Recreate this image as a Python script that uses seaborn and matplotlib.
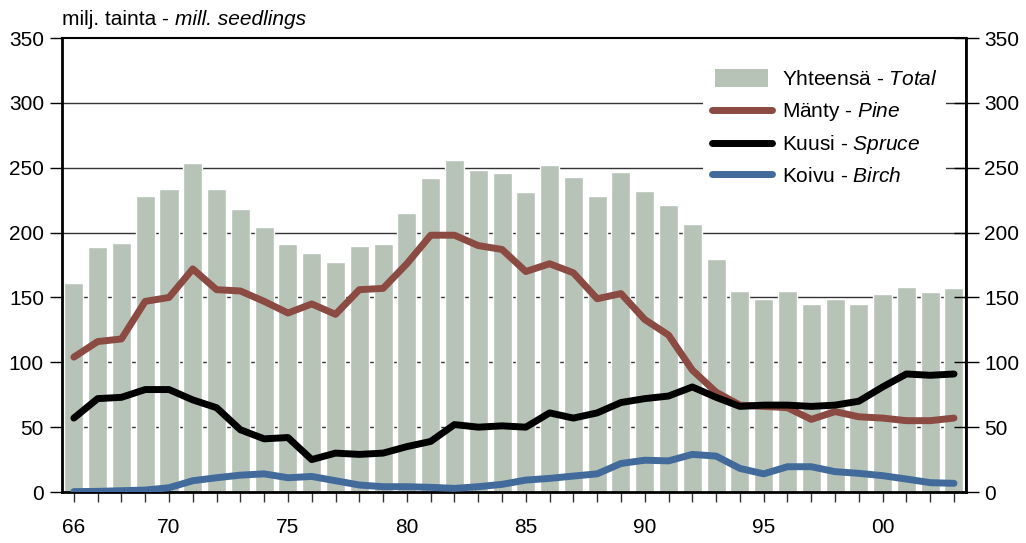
import matplotlib
matplotlib.use("Agg")
import matplotlib.pyplot as plt
import pandas as pd
import seaborn as sns
from matplotlib.patches import Patch, Rectangle
from matplotlib.lines import Line2D
from matplotlib.legend_handler import HandlerPatch
from matplotlib.ticker import MultipleLocator, FixedLocator

sns.set_theme(style="white")
plt.rcParams["font.family"] = ["Liberation Sans", "DejaVu Sans"]
plt.rcParams["mathtext.fontset"] = "custom"
plt.rcParams["mathtext.rm"] = "Liberation Sans"
plt.rcParams["mathtext.it"] = "Liberation Sans:italic"
plt.rcParams["text.color"] = "black"
plt.rcParams["xtick.color"] = "black"
plt.rcParams["ytick.color"] = "black"

years = list(range(1966, 2004))
total = [161, 189, 192, 228, 234, 254, 234, 218, 204, 191,
         184, 177, 190, 191, 215, 242, 256, 248, 246, 231,
         252, 243, 228, 247, 232, 221, 207, 180, 155, 149,
         155, 145, 149, 145, 153, 158, 154, 157]
pine = [104, 116, 118, 147, 150, 172, 156, 155, 147, 138,
        145, 137, 156, 157, 176, 198, 198, 190, 187, 170,
        176, 169, 149, 153, 133, 121, 94, 77, 67, 66,
        65, 56, 62, 58, 57, 55, 55, 57]
spruce = [57, 72, 73, 79, 79, 71, 65, 48, 41, 42,
          25, 30, 29, 30, 35, 39, 52, 50, 51, 50,
          61, 57, 61, 69, 72, 74, 81, 73, 66, 67,
          67, 66, 67, 70, 81, 91, 90, 91]
birch = [0.3, 0.5, 1, 1.5, 3.3, 8.7, 11, 13, 14, 11,
         12, 8.7, 5.4, 4.1, 4.1, 3.6, 2.8, 4.1, 5.9, 9.2,
         10.5, 12.3, 14, 22, 24.5, 24, 29, 27.7, 18.2, 14,
         19.5, 19.5, 15.7, 14.4, 12.6, 10, 7.2, 6.7]
tick_years = [1966, 1970, 1975, 1980, 1985, 1990, 1995, 2000]
tick_labels = ["66", "70", "75", "80", "85", "90", "95", "00"]

df = pd.DataFrame({"year": years, "total": total, "pine": pine,
                   "spruce": spruce, "birch": birch})

BAR = "#b8c3b8"
PINE = "#8b4a42"
SPRUCE = "#000000"
BIRCH = "#426b9c"
FS = 15

fig = plt.figure(figsize=(10.26, 5.43), dpi=100)
ax = fig.add_axes([0.0604, 0.0939, 0.881, 0.836])

for v in range(50, 350, 50):
    ax.axhline(v, color="#333333", lw=1, zorder=0)

sns.barplot(data=df, x="year", y="total", native_scale=True, color=BAR,
            width=0.8, saturation=1, ax=ax, zorder=2)
for col, c in [("pine", PINE), ("spruce", SPRUCE), ("birch", BIRCH)]:
    sns.lineplot(data=df, x="year", y=col, color=c, lw=5, ax=ax, zorder=3,
                 solid_capstyle="round", solid_joinstyle="round")

ax.set_xlim(1965.5, 2003.5)
ax.set_ylim(0, 350)
ax.set_xlabel("")
ax.set_ylabel("")
ax.yaxis.set_major_locator(MultipleLocator(50))
ax.xaxis.set_major_locator(FixedLocator(tick_years))
ax.xaxis.set_minor_locator(MultipleLocator(1))
ax.set_xticklabels(tick_labels)
ax.tick_params(axis="x", which="both", direction="out", length=7, width=1,
               color="#333333", bottom=True, labelsize=FS, pad=12)
ax.tick_params(axis="y", direction="out", length=9, width=1, left=True,
               labelsize=FS, pad=4)
for s in ax.spines.values():
    s.set_color("black")
    s.set_linewidth(1.2)
ax.spines["left"].set_linewidth(2)
ax.spines["bottom"].set_linewidth(2)
ax.spines["top"].set_linewidth(1.5)

ax2 = ax.twinx()
ax2.set_ylim(0, 350)
ax2.yaxis.set_major_locator(MultipleLocator(50))
ax2.tick_params(axis="y", direction="inout", length=18, width=1, right=True,
                labelsize=FS, pad=4)
for s in ax2.spines.values():
    s.set_visible(False)
ax2.spines["right"].set_visible(True)
ax2.spines["right"].set_linewidth(2)
ax2.spines["right"].set_color("black")


def bar_handle(legend, orig_handle, xdescent, ydescent, width, height, fontsize):
    return Rectangle((-xdescent + 0.06 * width, -ydescent - 0.1 * height),
                     0.88 * width, 1.2 * height)


handles = [Patch(facecolor=BAR, edgecolor="none"),
           Line2D([], [], color=PINE, lw=5, solid_capstyle="round"),
           Line2D([], [], color=SPRUCE, lw=5, solid_capstyle="round"),
           Line2D([], [], color=BIRCH, lw=5, solid_capstyle="round")]
labels = ["Yhteensä - $\\it{Total}$", "Mänty - $\\it{Pine}$",
          "Kuusi - $\\it{Spruce}$", "Koivu - $\\it{Birch}$"]
leg = ax2.legend(handles, labels, loc="upper left", bbox_to_anchor=(0.698, 0.97),
                 frameon=True, facecolor="white", edgecolor="none", framealpha=1,
                 fontsize=FS, handlelength=2.9, handletextpad=0.5,
                 labelspacing=0.5, borderpad=0.4,
                 handler_map={Patch: HandlerPatch(patch_func=bar_handle)})
leg.set_zorder(5)

# title: upright part, then italic part placed right after it
t1 = fig.text(0.0604, 0.965, "milj. tainta - ", fontsize=FS, va="center", ha="left")
fig.canvas.draw()
bb = t1.get_window_extent()
fig.text(bb.x1 / fig.bbox.width, 0.965, "mill. seedlings", fontsize=FS,
         va="center", ha="left", style="italic")

fig.savefig("out.png", dpi=100)
